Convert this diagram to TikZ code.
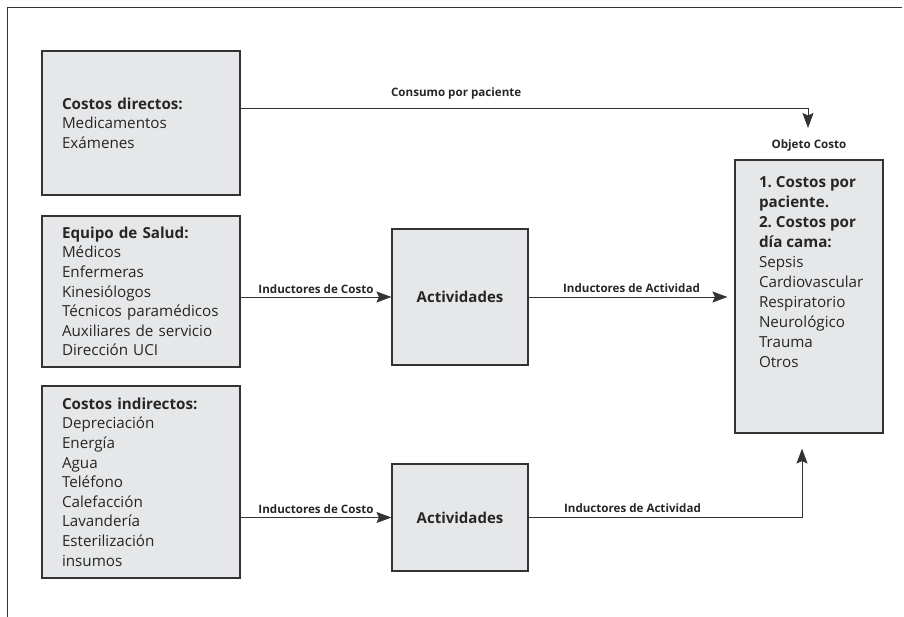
\documentclass[tikz,border=0pt]{standalone}
\usepackage{fontspec}
\setmainfont{Open Sans}
\usetikzlibrary{arrows.meta,positioning}
\definecolor{boxgray}{HTML}{E6E7E8}
\definecolor{linegray}{HTML}{333333}

\begin{document}
\begin{tikzpicture}[x=1pt, y=-1pt,
                    every node/.style={font=\fontsize{15.2}{19.6}\selectfont, text=black!85},
                    costbox/.style={draw=linegray, fill=boxgray, line width=1.1pt,
                                    align=left, inner xsep=20pt, text width=158pt,
                                    minimum height=#1},
                    objbox/.style={draw=linegray, fill=boxgray, line width=1.1pt,
                                   inner xsep=24pt, inner ysep=16pt},
                    actbox/.style={draw=linegray, fill=boxgray, line width=1.1pt,
                                   minimum width=136pt, font=\bfseries\fontsize{15}{17}\selectfont},
                    lbl/.style={font=\bfseries\fontsize{11.6}{13}\selectfont},
                    conn/.style={draw=linegray, line width=0.9pt,
                                 -{Stealth[length=15pt,width=11pt,inset=2.5pt]}}]
  \useasboundingbox (0,0) rectangle (904,617);
  \draw[linegray, line width=0.9pt] (7,617) -- (7,7) -- (902,7);

  % cost sources
  \node[costbox=144pt] (direct) at (141,123)
    {\textbf{Costos directos:}\\Medicamentos\\Exámenes};
  \node[costbox=151pt] (team) at (141,291.5)
    {\textbf{Equipo de Salud:}\\Médicos\\Enfermeras\\Kinesiólogos\\Técnicos paramédicos\\Auxiliares de servicio\\Dirección UCI};
  \node[costbox=192pt] (indirect) at (141,482)
    {\textbf{Costos indirectos:}\\Depreciación\\Energía\\Agua\\Teléfono\\Calefacción\\Lavandería\\Esterilización\\insumos};

  % activities
  \node[actbox, minimum height=136pt] (act1) at (460,297) {Actividades};
  \node[actbox, minimum height=107pt] (act2) at (460,517.5) {Actividades};

  % cost object
  \node[objbox, label={[lbl, label distance=5pt]above:Objeto Costo}] (object) at (809,296.5)
    {\parbox[c][241pt][t]{100pt}{\fontsize{15.2}{20}\selectfont\frenchspacing\raggedright
      \textbf{1. Costos por paciente.}\\\textbf{2. Costos por día cama:}\\Sepsis\\Cardiovascular\\Respiratorio\\Neurológico\\Trauma\\Otros}};
  \coordinate (drop) at (808,128);

  % drivers
  \draw[conn] ([yshift=15pt]direct.east) -| node[lbl, pos=0.19, above=5pt] {Consumo por paciente} (drop);
  \draw[conn] (team.east |- act1) -- node[lbl, above] {Inductores de Costo} (act1);
  \draw[conn, shorten >=7pt] (act1) -- node[lbl, above=1pt] {Inductores de Actividad} (object.west |- act1);
  \draw[conn] (indirect.east |- act2) -- node[lbl, above] {Inductores de Costo} (act2);
  \draw[conn, shorten >=15pt] (act2) -| node[lbl, pos=0.19, above=1pt] {Inductores de Actividad} ([xshift=-7pt]object.south);
\end{tikzpicture}
\end{document}
